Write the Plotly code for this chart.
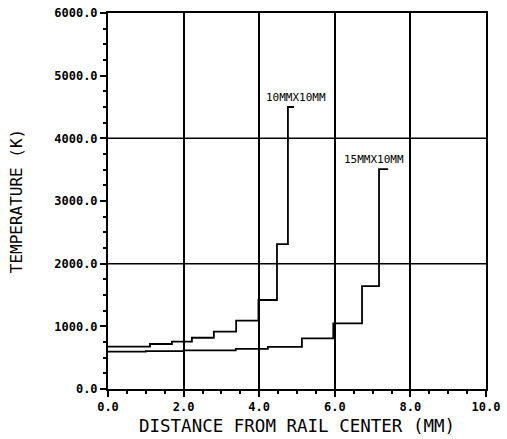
import plotly.graph_objects as go

# 10MM x 10MM rail: step edges (mm) and temperature (K)
x_10 = [0.0, 1.11, 1.69, 2.22, 2.80, 3.39, 3.98, 4.47, 4.76, 4.92]
t_10 = [675, 718, 755, 818, 914, 1090, 1420, 2313, 4500, 4500]

# 15MM x 10MM rail
x_15 = [0.0, 1.0, 2.0, 3.38, 4.23, 5.13, 5.96, 6.72, 7.17, 7.41]
t_15 = [595, 605, 615, 640, 672, 808, 1048, 1643, 3510, 3510]

series_labels = ["10MMX10MM", "15MMX10MM"]
label_x = [4.98, 7.05]
label_t = [4650, 3660]

x_ticks = [0, 2, 4, 6, 8, 10]
y_ticks = [0, 1000, 2000, 3000, 4000, 5000, 6000]
y_grid = [2000, 4000]

FONT = "DejaVu Sans Mono"

fig = go.Figure()
for xs, ts in [(x_10, t_10), (x_15, t_15)]:
    fig.add_trace(go.Scatter(x=xs, y=ts, mode="lines", line_shape="hv",
                             line=dict(color="black", width=1.8),
                             showlegend=False, hoverinfo="skip"))

for txt, lx, lt in zip(series_labels, label_x, label_t):
    fig.add_annotation(x=lx, y=lt, text=txt, showarrow=False,
                       font=dict(family=FONT, size=11, color="black"))

for g in y_grid:
    fig.add_shape(type="line", xref="paper", x0=0, x1=1, yref="y", y0=g, y1=g,
                  line=dict(color="black", width=1.5), layer="below")

axis_common = dict(
    showline=True, linecolor="black", linewidth=2, mirror=True,
    ticks="outside", tickcolor="black", tickwidth=1.5, ticklen=6,
    tickformat=".1f", zeroline=False, automargin=False,
    tickfont=dict(family=FONT, size=12, color="black", weight="bold"),
)

fig.update_xaxes(range=[0, 10], tickvals=x_ticks, showgrid=True,
                 gridcolor="black", gridwidth=1.5,
                 minor=dict(dtick=0.5, ticks="outside", ticklen=3,
                            tickcolor="black", tickwidth=1.5, showgrid=False),
                 title=dict(text="DISTANCE FROM RAIL CENTER (MM)",
                            font=dict(family=FONT, size=17.5, color="black"),
                            standoff=6),
                 **axis_common)
fig.update_yaxes(range=[0, 6000], tickvals=y_ticks, showgrid=False,
                 minor=dict(dtick=250, ticks="outside", ticklen=3,
                            tickcolor="black", tickwidth=1.5, showgrid=False),
                 title=dict(text="TEMPERATURE (K)",
                            font=dict(family=FONT, size=16, color="black"),
                            standoff=28),
                 **axis_common)

fig.update_layout(
    width=507, height=439,
    margin=dict(l=108, r=21, t=13, b=50),
    paper_bgcolor="white", plot_bgcolor="white",
)

fig.write_html("out.html")
